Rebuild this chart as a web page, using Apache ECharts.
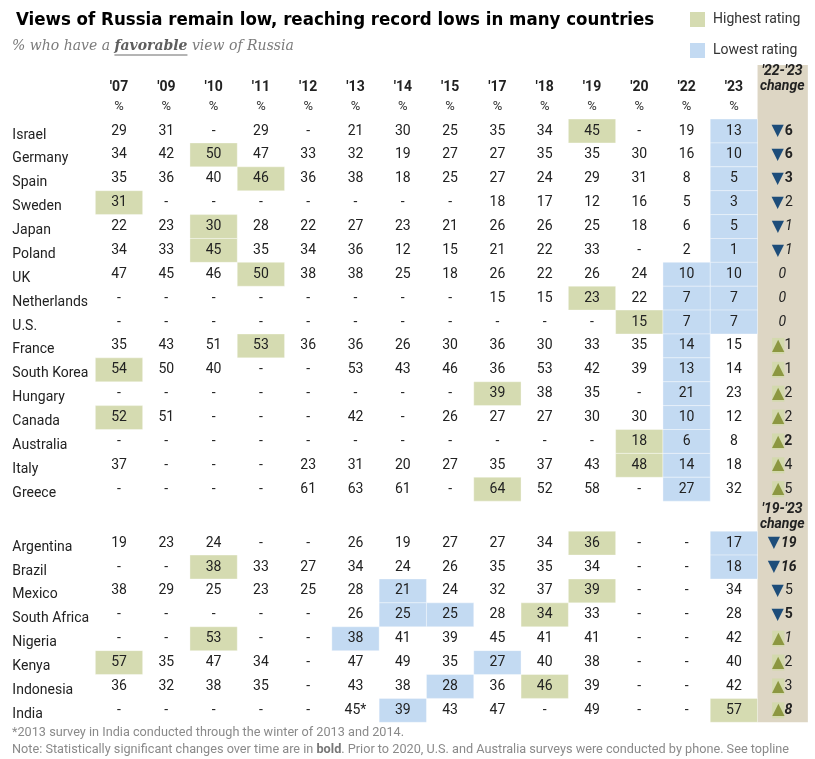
<!DOCTYPE html>
<html>
<head>
<meta charset="utf-8">
<script src="https://cdn.jsdelivr.net/npm/echarts@6/dist/echarts.min.js"></script>
<title>Views of Russia</title>
<style>html,body{margin:0;padding:0;background:#fff;}</style>
</head>
<body>
<div id="container" style="width:815px;height:759px;"></div>
<script>
// ---- data ----
var years = ["'07", "'09", "'10", "'11", "'12", "'13", "'14", "'15", "'17", "'18", "'19", "'20", "'22", "'23"];

// first block: change is '22-'23
var countriesA = ['Israel', 'Germany', 'Spain', 'Sweden', 'Japan', 'Poland', 'UK', 'Netherlands', 'U.S.',
    'France', 'South Korea', 'Hungary', 'Canada', 'Australia', 'Italy', 'Greece'];
var ratingsA = [
    [29, 31, null, 29, null, 21, 30, 25, 35, 34, 45, null, 19, 13],
    [34, 42, 50, 47, 33, 32, 19, 27, 27, 35, 35, 30, 16, 10],
    [35, 36, 40, 46, 36, 38, 18, 25, 27, 24, 29, 31, 8, 5],
    [31, null, null, null, null, null, null, null, 18, 17, 12, 16, 5, 3],
    [22, 23, 30, 28, 22, 27, 23, 21, 26, 26, 25, 18, 6, 5],
    [34, 33, 45, 35, 34, 36, 12, 15, 21, 22, 33, null, 2, 1],
    [47, 45, 46, 50, 38, 38, 25, 18, 26, 22, 26, 24, 10, 10],
    [null, null, null, null, null, null, null, null, 15, 15, 23, 22, 7, 7],
    [null, null, null, null, null, null, null, null, null, null, null, 15, 7, 7],
    [35, 43, 51, 53, 36, 36, 26, 30, 36, 30, 33, 35, 14, 15],
    [54, 50, 40, null, null, 53, 43, 46, 36, 53, 42, 39, 13, 14],
    [null, null, null, null, null, null, null, null, 39, 38, 35, null, 21, 23],
    [52, 51, null, null, null, 42, null, 26, 27, 27, 30, 30, 10, 12],
    [null, null, null, null, null, null, null, null, null, null, null, 18, 6, 8],
    [37, null, null, null, 23, 31, 20, 27, 35, 37, 43, 48, 14, 18],
    [null, null, null, null, 61, 63, 61, null, 64, 52, 58, null, 27, 32]
];
var changeA = [-6, -6, -3, -2, -1, -1, 0, 0, 0, 1, 1, 2, 2, 2, 4, 5];

// second block: change is '19-'23
var countriesB = ['Argentina', 'Brazil', 'Mexico', 'South Africa', 'Nigeria', 'Kenya', 'Indonesia', 'India'];
var ratingsB = [
    [19, 23, 24, null, null, 26, 19, 27, 27, 34, 36, null, null, 17],
    [null, null, 38, 33, 27, 34, 24, 26, 35, 35, 34, null, null, 18],
    [38, 29, 25, 23, 25, 28, 21, 24, 32, 37, 39, null, null, 34],
    [null, null, null, null, null, 26, 25, 25, 28, 34, 33, null, null, 28],
    [null, null, 53, null, null, 38, 41, 39, 45, 41, 41, null, null, 42],
    [57, 35, 47, 34, null, 47, 49, 35, 27, 40, 38, null, null, 40],
    [36, 32, 38, 35, null, 43, 38, 28, 36, 46, 39, null, null, 42],
    [null, null, null, null, null, 45, 39, 43, 47, null, 49, null, null, 57]
];
var changeB = [-19, -16, -5, -5, 1, 2, 3, 8];

// how the change numbers are set
var boldChange = ['Israel', 'Germany', 'Spain', 'Australia', 'Argentina', 'Brazil', 'South Africa', 'India'];
var italicChange = ['Japan', 'Poland', 'UK', 'Netherlands', 'U.S.', 'Nigeria', 'Argentina', 'Brazil', 'India'];
var starCells = [['India', "'13"]];

// ---- layout / style ----
var GROUP_GAP = 1.26;          // extra rows between the two blocks
var CHG = years.length;        // index of the change column
var FONT = 'Roboto, "Liberation Sans", sans-serif';
var colors = {
    high: '#d5dbb1', low: '#c3daf2', band: '#ddd6c4',
    down: '#1d4d7a', up: '#8c9741', upBg: '#d3d9ad', text: '#222'
};

var rows = [];
countriesA.forEach(function (c, i) {
    rows.push({ name: c, y: i, vals: ratingsA[i], chg: changeA[i] });
});
countriesB.forEach(function (c, i) {
    rows.push({ name: c, y: countriesA.length + GROUP_GAP + i, vals: ratingsB[i], chg: changeB[i] });
});

function isStar(name, j) {
    return starCells.some(function (s) { return s[0] === name && s[1] === years[j]; });
}

// split cells into plain / highest / lowest
var plainCells = [], highCells = [], lowCells = [];
rows.forEach(function (r) {
    var nums = r.vals.filter(function (v) { return v != null; });
    var mx = Math.max.apply(null, nums), mn = Math.min.apply(null, nums);
    r.vals.forEach(function (v, j) {
        var label = v == null ? '-' : String(v) + (isStar(r.name, j) ? '*' : '');
        var item = [j, r.y, label];
        if (v === mx) highCells.push(item);
        else if (v === mn) lowCells.push(item);
        else plainCells.push(item);
    });
});

function cellRenderer(src, fill) {
    return function (params, api) {
        var p = api.coord([api.value(0), api.value(1)]);
        var s = api.size([1, 1]);
        var kids = [];
        if (fill) {
            kids.push({
                type: 'rect',
                shape: { x: p[0] - s[0] / 2, y: p[1] - s[1] / 2, width: s[0], height: s[1] },
                style: { fill: fill, stroke: 'rgba(255,255,255,0.35)', lineWidth: 1 }
            });
        }
        kids.push({
            type: 'text', x: p[0], y: p[1],
            style: {
                text: src[params.dataIndex][2], fill: colors.text,
                font: '14px ' + FONT, align: 'center', verticalAlign: 'middle'
            }
        });
        return { type: 'group', children: kids };
    };
}

// change column
var changeData = rows.map(function (r) { return [CHG, r.y, r.chg]; });
function changeRender(params, api) {
    var r = rows[params.dataIndex];
    var p = api.coord([CHG, r.y]);
    var b = boldChange.indexOf(r.name) >= 0, it = italicChange.indexOf(r.name) >= 0;
    var n = Math.abs(r.chg);
    var txt = r.chg < 0 ? '{dn|▼}{n|' + n + '}' : r.chg > 0 ? '{up|▲}{n|' + n + '}' : '{n|0}';
    return {
        type: 'text', x: p[0] + 1, y: p[1],
        style: {
            text: txt, align: 'center', verticalAlign: 'middle',
            rich: {
                dn: { fontFamily: 'DejaVu Sans', fontSize: 16, fill: colors.down, padding: [0, 1, 0, 0] },
                up: { fontFamily: 'DejaVu Sans', fontSize: 16, fill: colors.up, backgroundColor: colors.upBg, padding: [0, 0, 0, 0] },
                n: { fontFamily: FONT, fontSize: 14, fill: colors.text,
                     fontWeight: b ? 'bold' : 'normal', fontStyle: it ? 'italic' : 'normal' }
            }
        }
    };
}

// header rows
var headerData = years.map(function (y, i) { return [i]; });
function headerRender(params, api) {
    var i = api.value(0);
    var a = api.coord([i, -1.84]), b = api.coord([i, -1.0]);
    return {
        type: 'group', children: [
            { type: 'text', x: a[0], y: a[1], style: { text: years[i], font: 'bold 14px ' + FONT, fill: '#222', align: 'center', verticalAlign: 'middle' } },
            { type: 'text', x: b[0], y: b[1], style: { text: '%', font: '13px ' + FONT, fill: '#333', align: 'center', verticalAlign: 'middle' } }
        ]
    };
}
var changeHeads = [
    [CHG, -2.5, "'22-'23"], [CHG, -1.86, 'change'],
    [CHG, 15.85, "'19-'23"], [CHG, 16.48, 'change']
];
function changeHeadRender(params, api) {
    var h = changeHeads[params.dataIndex];
    var p = api.coord([h[0], h[1]]);
    return { type: 'text', x: p[0] + 1, y: p[1], style: { text: h[2], font: 'italic bold 14px ' + FONT, fill: '#222', align: 'center', verticalAlign: 'middle' } };
}

// tan band behind change column
function bandRender(params, api) {
    var t = api.coord([CHG, -2.76]), btm = api.coord([CHG, 24.76]);
    var s = api.size([1, 1]);
    return { type: 'rect', shape: { x: t[0] - s[0] / 2, y: t[1], width: s[0] + 3, height: btm[1] - t[1] }, style: { fill: colors.band } };
}

// country names
var nameData = rows.map(function (r) { return [0, r.y]; });
function nameRender(params, api) {
    var r = rows[params.dataIndex];
    var p = api.coord([0, r.y]);
    var s = api.size([1, 1]);
    return { type: 'text', x: p[0] - s[0] / 2 - 83, y: p[1] + 4, style: { text: r.name, font: '14px ' + FONT, fill: '#222', align: 'left', verticalAlign: 'middle' } };
}

// underline for "favorable"
var subFont = 'italic 14px "DejaVu Serif"';
var cv = document.createElement('canvas').getContext('2d');
cv.font = subFont;
var w1 = cv.measureText('% who have a ').width;
cv.font = 'italic bold 14px "DejaVu Serif"';
var w2 = cv.measureText('favorable').width;

var myChart = echarts.init(document.getElementById('container'));
var option = {
    animation: false,
    title: {
        text: 'Views of Russia remain low, reaching record lows in many countries',
        left: 11, top: 6,
        textStyle: { fontFamily: '"Liberation Sans Narrow", "DejaVu Sans Condensed", sans-serif', fontWeight: 'bold', fontSize: 18.5, color: '#000' }
    },
    legend: {
        data: ['Highest rating', 'Lowest rating'],
        orient: 'vertical', left: 690, top: 12, padding: 0,
        itemWidth: 15, itemHeight: 15, itemGap: 16, icon: 'rect', selectedMode: false,
        textStyle: { fontFamily: FONT, fontSize: 14, color: '#333', padding: [0, 0, 0, 3] }
    },
    graphic: [
        {
            type: 'text', left: 12, top: 39,
            style: {
                text: '{a|% who have a }{b|favorable}{a| view of Russia}',
                rich: {
                    a: { font: subFont, fill: '#7b7b7b' },
                    b: { font: 'italic bold 14px "DejaVu Serif"', fill: '#5e5e5e' }
                }
            }
        },
        { type: 'line', shape: { x1: 12 + w1, y1: 55, x2: 12 + w1 + w2, y2: 55 }, style: { stroke: '#6a6a6a', lineWidth: 1 } },
        {
            type: 'text', left: 12, top: 726,
            style: { text: '*2013 survey in India conducted through the winter of 2013 and 2014.', font: '12.7px ' + FONT, fill: '#8a8a8a' }
        },
        {
            type: 'text', left: 12, top: 743,
            style: {
                text: '{a|Note: Statistically significant changes over time are in }{b|bold}{a|. Prior to 2020, U.S. and Australia surveys were conducted by phone. See topline}',
                rich: { a: { font: '12.7px ' + FONT, fill: '#8a8a8a' }, b: { font: 'bold 12.7px ' + FONT, fill: '#777' } }
            }
        }
    ],
    grid: { left: 95.35, right: 10.15, top: 59.36, bottom: 31 },
    xAxis: { type: 'category', data: years.concat(['change']), show: false },
    yAxis: { type: 'value', inverse: true, min: -3, max: 25, show: false },
    series: [
        { type: 'custom', name: 'band', renderItem: bandRender, data: [[CHG, 0]], silent: true, z: 1 },
        { type: 'custom', name: 'Highest rating', renderItem: cellRenderer(highCells, colors.high), data: highCells.map(function (d) { return [d[0], d[1]]; }), itemStyle: { color: colors.high }, z: 2 },
        { type: 'custom', name: 'Lowest rating', renderItem: cellRenderer(lowCells, colors.low), data: lowCells.map(function (d) { return [d[0], d[1]]; }), itemStyle: { color: colors.low }, z: 2 },
        { type: 'custom', name: 'plain', renderItem: cellRenderer(plainCells, null), data: plainCells.map(function (d) { return [d[0], d[1]]; }), z: 3 },
        { type: 'custom', name: 'change', renderItem: changeRender, data: changeData, z: 3 },
        { type: 'custom', name: 'header', renderItem: headerRender, data: headerData, z: 3 },
        { type: 'custom', name: 'changeHead', renderItem: changeHeadRender, data: changeHeads.map(function (h) { return [h[0], h[1]]; }), z: 3 },
        { type: 'custom', name: 'names', renderItem: nameRender, data: nameData, z: 3 }
    ]
};
myChart.setOption(option);
</script>
</body>
</html>
